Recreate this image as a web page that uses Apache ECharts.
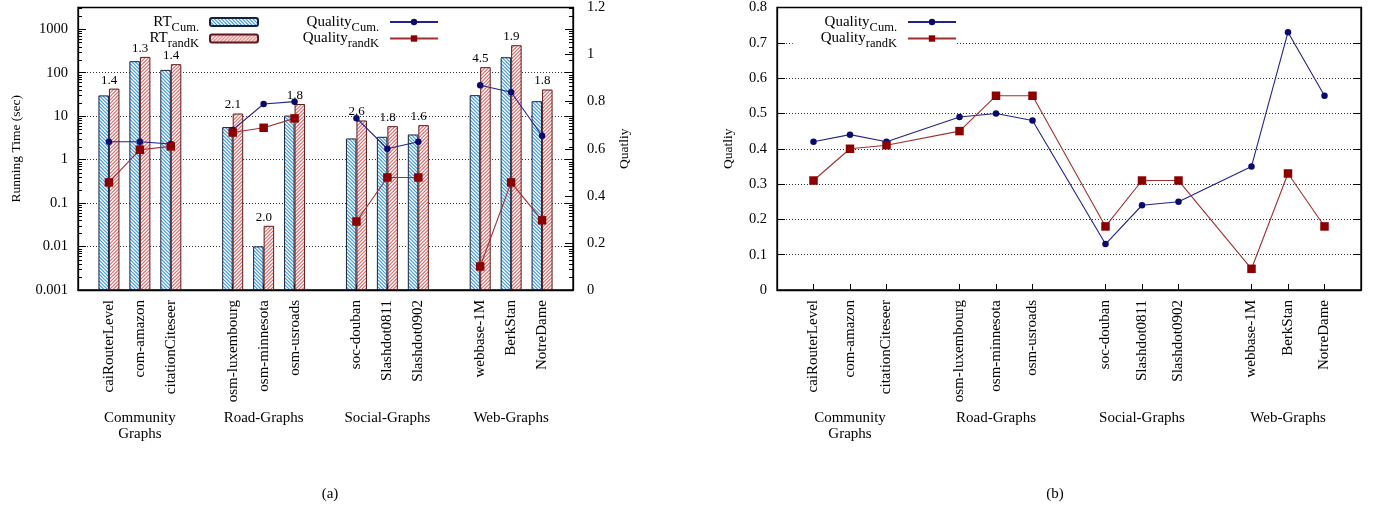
<!DOCTYPE html>
<html>
<head>
<meta charset="utf-8">
<script src="https://cdn.jsdelivr.net/npm/echarts@6/dist/echarts.min.js"></script>
<style>
  html, body { margin: 0; padding: 0; background: #fff; }
  #chart { width: 1378px; height: 510px; }
</style>
</head>
<body>
<div id="chart"></div>
<script>
// Graph collections and the datasets in each one
const groupNames = ['Community\nGraphs', 'Road-Graphs', 'Social-Graphs', 'Web-Graphs'];
const datasetNames = [
  ['caiRouterLevel', 'com-amazon', 'citationCiteseer'],
  ['osm-luxembourg', 'osm-minnesota', 'osm-usroads'],
  ['soc-douban', 'Slashdot0811', 'Slashdot0902'],
  ['webbase-1M', 'BerkStan', 'NotreDame']
];

// (a) running time (sec), log scale
const rtCum   = [30, 184, 116, 5.6, 0.0101, 10.3, 3.07, 3.35, 3.79, 30.4, 227, 22.1];
const rtRandK = [43, 231, 157, 11.5, 0.03, 19, 7.95, 5.89, 6.21, 134, 429, 41];
// speed-up labels printed above each pair of bars
const speedup = ['1.4', '1.3', '1.4', '2.1', '2.0', '1.8', '2.6', '1.8', '1.6', '4.5', '1.9', '1.8'];
// (a) quality on the secondary axis
const qualityCumA   = [0.63, 0.63, 0.62, 0.68, 0.79, 0.80, 0.73, 0.60, 0.63, 0.87, 0.84, 0.655];
const qualityRandKA = [0.457, 0.596, 0.61, 0.669, 0.689, 0.729, 0.291, 0.478, 0.478, 0.10, 0.457, 0.296];
// (b) quality
const qualityCumB   = [0.42, 0.44, 0.42, 0.49, 0.50, 0.48, 0.13, 0.24, 0.25, 0.35, 0.73, 0.55];
const qualityRandKB = [0.31, 0.40, 0.41, 0.45, 0.55, 0.55, 0.18, 0.31, 0.31, 0.06, 0.33, 0.18];

// Axis ranges and tick steps
const rtMin = 0.001, rtMax = Math.pow(10, 3.5);
const rtMinorMantissas = [2, 3, 4, 5, 6, 7, 8, 9];
const qualityAMax = 1.2, qualityAStep = 0.2;
const qualityBMax = 0.8, qualityBStep = 0.1;

const FONT = '"Liberation Serif", "DejaVu Serif", serif';

// Category slots: an empty slot before, between and after the collections
const slots = [], isGap = [], groupAt = [], slotOf = [];
slots.push('gap0'); isGap.push(true); groupAt.push('');
datasetNames.forEach((names, g) => {
  names.forEach((n, k) => {
    slotOf.push(slots.length);
    slots.push(n); isGap.push(false);
    groupAt.push(k === 1 ? groupNames[g] : '');
  });
  slots.push('gap' + (g + 1)); isGap.push(true); groupAt.push('');
});
function spread(values) {
  const out = slots.map(() => null);
  values.forEach((v, i) => { out[slotOf[i]] = v; });
  return out;
}
const speedupBySlot = spread(speedup);

// Minor tick values of the log axis (2..9 in each decade)
const rtMinorTicks = [];
for (let e = Math.round(Math.log10(rtMin)); Math.pow(10, e) < rtMax; e++) {
  rtMinorMantissas.forEach((m) => {
    const v = m * Math.pow(10, e);
    if (v < rtMax) rtMinorTicks.push([0, v]);
  });
}

// Hatched fills for the bars
function hatch(color, forward) {
  const s = 7, c = document.createElement('canvas');
  c.width = s; c.height = s;
  const g = c.getContext('2d');
  g.fillStyle = '#fff'; g.fillRect(0, 0, s, s);
  g.strokeStyle = color; g.lineWidth = 1.2;
  g.beginPath();
  for (let k = -2; k <= 2; k++) {
    const o = k * s / 2;
    if (forward) { g.moveTo(o - 1, s + 1); g.lineTo(o + s + 1, -1); }
    else { g.moveTo(o - 1, -1); g.lineTo(o + s + 1, s + 1); }
  }
  g.stroke();
  return { image: c, repeat: 'repeat' };
}

function logLabel(v) {
  const l = Math.log10(v);
  if (Math.abs(l - Math.round(l)) > 1e-6) return '';
  return String(+Math.pow(10, Math.round(l)).toPrecision(6));
}

// Legend labels: main word with a lowered subscript
const legendRich = {
  m: { fontSize: 15, fontFamily: FONT, color: '#000', lineHeight: 16 },
  s: { fontSize: 12.5, fontFamily: FONT, color: '#000', lineHeight: 13, padding: [11, 6, 0, 0] }
};
function legendFmt(name) {
  const p = name.split(' ');
  return '{m|' + p[0] + '}{s|' + p[1] + '}';
}
// one legend entry per row, placed by its right edge and row centre
function legendItem(name, rightEdge, centerY, extra) {
  return Object.assign({
    orient: 'vertical', align: 'right', right: 1378 - rightEdge, top: centerY - 12, padding: 0,
    itemWidth: 48, itemHeight: 8, data: [name], formatter: legendFmt, textStyle: { rich: legendRich }
  }, extra || {});
}

const tickLabel = { color: '#000', fontSize: 14.5, fontFamily: FONT };
const black = { color: '#000', width: 1.3 };
const dotted = { type: [1, 2], color: '#333', width: 1 };

function slotAxis(gridIndex) {
  return {
    type: 'category', gridIndex, data: slots, boundaryGap: false, position: 'bottom',
    axisLine: { show: true, onZero: false, lineStyle: black },
    axisTick: { show: true, inside: true, length: 6, interval: (i) => !isGap[i], lineStyle: { color: '#000' } },
    axisLabel: {
      interval: 0, rotate: 90, margin: 10, ...tickLabel, fontSize: 15,
      formatter: (v, i) => isGap[i] ? '' : v
    },
    splitLine: { show: false }
  };
}
function groupAxis(gridIndex) {
  return {
    type: 'category', gridIndex, data: slots, boundaryGap: false, position: 'bottom',
    axisLine: { show: false }, axisTick: { show: false },
    axisLabel: {
      interval: 0, margin: 120, ...tickLabel, fontSize: 15, lineHeight: 16,
      formatter: (v, i) => groupAt[i]
    },
    splitLine: { show: false }
  };
}

const option = {
  animation: false,
  backgroundColor: '#fff',
  title: [
    { text: '(a)', left: 325, top: 482, textAlign: 'center', textStyle: { fontSize: 15, fontWeight: 'normal', fontFamily: FONT, color: '#000' } },
    { text: '(b)', left: 1050, top: 482, textAlign: 'center', textStyle: { fontSize: 15, fontWeight: 'normal', fontFamily: FONT, color: '#000' } }
  ],
  grid: [
    { left: 78, right: 805, top: 7, bottom: 220, show: true, borderColor: '#000', borderWidth: 1.3, containLabel: false },
    { left: 777, right: 17, top: 7, bottom: 220, show: true, borderColor: '#000', borderWidth: 1.3, containLabel: false }
  ],
  legend: [
    legendItem('RT Cum.', 259, 22),
    legendItem('RT randK', 259, 38.5),
    legendItem('Quality Cum.', 439, 22),
    legendItem('Quality randK', 439, 38.5),
    legendItem('Quality Cum.', 957, 22),
    legendItem('Quality randK', 957, 38.5, { padding: [0, 0, 0, 28], backgroundColor: '#fff' })
  ],
  xAxis: [slotAxis(0), groupAxis(0), slotAxis(1), groupAxis(1)],
  yAxis: [
    {
      type: 'log', gridIndex: 0, position: 'left', logBase: 10, min: rtMin, max: rtMax, startValue: rtMin,
      name: 'Running Time (sec)', nameLocation: 'middle', nameGap: 55, nameRotate: 90,
      nameTextStyle: { fontSize: 13.5, fontFamily: FONT, color: '#000' },
      axisLine: { show: true, lineStyle: black },
      axisTick: { show: true, inside: true, length: 8, lineStyle: { color: '#000' } },
      minorTick: { show: false },
      axisLabel: { ...tickLabel, margin: 10, formatter: logLabel },
      splitLine: { show: true, showMinLine: false, showMaxLine: false,
        lineStyle: { ...dotted, color: ['#333', '#333', '#333', '#333', '#333', 'rgba(0,0,0,0)', 'rgba(0,0,0,0)'] } }
    },
    {
      type: 'value', gridIndex: 0, position: 'right', min: 0, max: qualityAMax, interval: qualityAStep,
      name: 'Quatliy', nameLocation: 'middle', nameGap: 44, nameRotate: 90,
      nameTextStyle: { fontSize: 13.5, fontFamily: FONT, color: '#000' },
      axisLine: { show: true, lineStyle: black },
      axisTick: { show: true, inside: true, length: 8, lineStyle: { color: '#000' } },
      axisLabel: { ...tickLabel, margin: 14 },
      splitLine: { show: false }
    },
    {
      type: 'log', gridIndex: 0, position: 'right', logBase: 10, min: rtMin, max: rtMax,
      axisLine: { show: false },
      axisTick: { show: true, inside: true, length: 8, lineStyle: { color: '#000' } },
      minorTick: { show: false },
      axisLabel: { show: false },
      splitLine: { show: false }
    },
    {
      type: 'value', gridIndex: 1, position: 'left', min: 0, max: qualityBMax, interval: qualityBStep,
      name: 'Quatliy', nameLocation: 'middle', nameGap: 42, nameRotate: 90,
      nameTextStyle: { fontSize: 13.5, fontFamily: FONT, color: '#000' },
      axisLine: { show: true, lineStyle: black },
      axisTick: { show: true, inside: true, length: 8, lineStyle: { color: '#000' } },
      axisLabel: { ...tickLabel, margin: 10 },
      splitLine: { show: true, showMinLine: false, showMaxLine: false, lineStyle: dotted }
    },
    {
      type: 'value', gridIndex: 1, position: 'right', min: 0, max: qualityBMax, interval: qualityBStep,
      axisLine: { show: true, lineStyle: black },
      axisTick: { show: true, inside: true, length: 8, lineStyle: { color: '#000' } },
      axisLabel: { show: false },
      splitLine: { show: false }
    }
  ],
  series: [
    {
      name: 'RT Cum.', type: 'bar', xAxisIndex: 0, yAxisIndex: 0, data: spread(rtCum),
      barWidth: 10.5, barGap: '0%',
      itemStyle: { color: hatch('#3a9be6', false), borderColor: '#16213e', borderWidth: 1 }
    },
    {
      name: 'RT randK', type: 'bar', xAxisIndex: 0, yAxisIndex: 0, data: spread(rtRandK),
      barWidth: 10.5, barGap: '0%',
      itemStyle: { color: hatch('#e06a6a', true), borderColor: '#5a1a1a', borderWidth: 1 },
      label: {
        show: true, position: 'top', distance: 2, offset: [-5, 0],
        fontSize: 13, fontFamily: FONT, color: '#000',
        formatter: (p) => speedupBySlot[p.dataIndex] || ''
      }
    },
    {
      name: 'Quality Cum.', type: 'line', xAxisIndex: 0, yAxisIndex: 1, data: spread(qualityCumA),
      connectNulls: false, symbol: 'circle', symbolSize: 6.5,
      lineStyle: { color: '#22228c', width: 1.1 }, itemStyle: { color: '#0a0a6e' }, z: 5
    },
    {
      name: 'Quality randK', type: 'line', xAxisIndex: 0, yAxisIndex: 1, data: spread(qualityRandKA),
      connectNulls: false, symbol: 'rect', symbolSize: 8.5,
      lineStyle: { color: '#a03030', width: 1.1 }, itemStyle: { color: '#8b0000' }, z: 5
    },
    {
      name: 'Quality Cum.', type: 'line', xAxisIndex: 2, yAxisIndex: 3, data: spread(qualityCumB),
      connectNulls: true, symbol: 'circle', symbolSize: 6.5,
      lineStyle: { color: '#22228c', width: 1.1 }, itemStyle: { color: '#0a0a6e' }, z: 5
    },
    {
      name: 'Quality randK', type: 'line', xAxisIndex: 2, yAxisIndex: 3, data: spread(qualityRandKB),
      connectNulls: true, symbol: 'rect', symbolSize: 8.5,
      lineStyle: { color: '#a03030', width: 1.1 }, itemStyle: { color: '#8b0000' }, z: 5
    },
    {
      // minor ticks of the log axis, drawn inward on both sides of the frame
      type: 'custom', xAxisIndex: 0, yAxisIndex: 0, data: rtMinorTicks, silent: true, z: 3,
      encode: { x: 0, y: 1 },
      renderItem: (params, api) => {
        const cs = params.coordSys;
        const y = Math.round(api.coord([0, api.value(1)])[1]) + 0.5;
        const st = { stroke: '#000', lineWidth: 1 };
        return {
          type: 'group', children: [
            { type: 'line', shape: { x1: cs.x, y1: y, x2: cs.x + 4, y2: y }, style: st },
            { type: 'line', shape: { x1: cs.x + cs.width - 4, y1: y, x2: cs.x + cs.width, y2: y }, style: st }
          ]
        };
      }
    }
  ]
};

const chart = echarts.init(document.getElementById('chart'), null, { renderer: 'canvas' });
chart.setOption(option);
</script>
</body>
</html>
